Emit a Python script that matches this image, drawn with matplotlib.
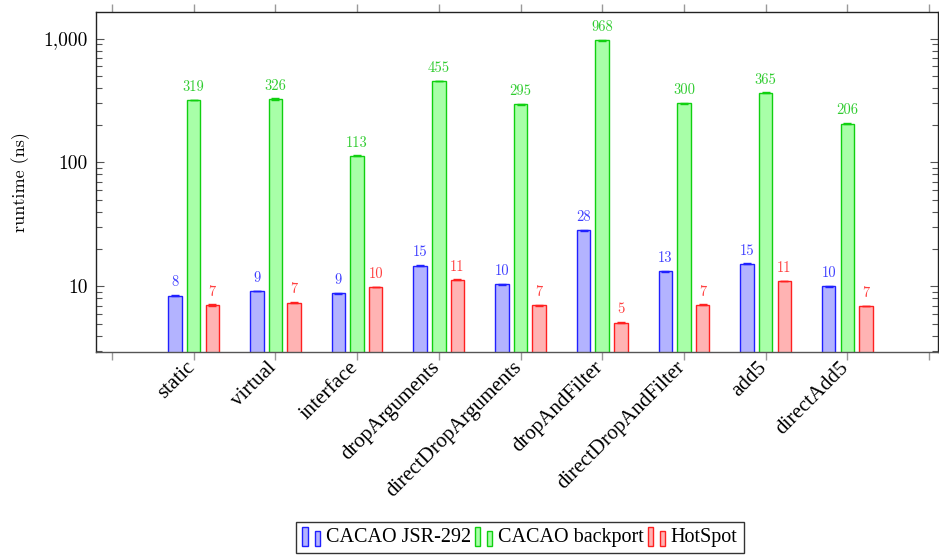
import matplotlib
matplotlib.use("Agg")
import matplotlib.pyplot as plt
import matplotlib.transforms as mtransforms
import numpy as np
from matplotlib.ticker import FixedLocator, FuncFormatter, LogLocator, NullFormatter
from matplotlib.legend_handler import HandlerBase
from matplotlib.patches import Rectangle

categories = ["static", "virtual", "interface", "dropArguments", "directDropArguments",
              "dropAndFilter", "directDropAndFilter", "add5", "directAdd5"]
series_names = ["CACAO JSR-292", "CACAO backport", "HotSpot"]
jsr292 = [8.4, 9.2, 8.8, 14.7, 10.4, 28.4, 13.2, 15.2, 10.0]
backport = [319, 326, 113, 455, 295, 968, 300, 365, 206]
hotspot = [7.05, 7.4, 9.9, 11.3, 7.05, 5.1, 7.1, 11.0, 6.95]
jsr292_err = [0.05, 0.05, 0.05, 0.1, 0.05, 0.2, 0.1, 0.1, 0.1]
backport_err = [2, 8, 1, 3, 2, 6, 2, 3, 1]
hotspot_err = [0.15, 0.05, 0.05, 0.1, 0.05, 0.05, 0.05, 0.05, 0.05]

edge_colors = ["#2020ff", "#10d010", "#ff2020"]
fill_colors = ["#b3b3ff", "#a8ffa8", "#ffb3b3"]
label_colors = ["#4040ff", "#30cc30", "#ff4040"]

fig = plt.figure(figsize=(9.39, 5.55), dpi=100)
ax = fig.add_axes([96/939, 1-352/555, (938-96)/939, 340/555])

x = np.arange(1, len(categories)+1)
offset = 0.228
width = 0.165
all_vals = [jsr292, backport, hotspot]
all_err = [jsr292_err, backport_err, hotspot_err]
handles = []
for i, (vals, errs) in enumerate(zip(all_vals, all_err)):
    pos = x + (i-1)*offset
    b = ax.bar(pos, vals, width=width, bottom=0.001, color=fill_colors[i],
               edgecolor=edge_colors[i], linewidth=1.0, zorder=2)
    handles.append(b[0])
    ax.errorbar(pos, vals, yerr=errs, fmt='none', ecolor=edge_colors[i],
                elinewidth=1.0, capsize=3, capthick=1.0, zorder=3)
    for p, v in zip(pos, vals):
        ax.annotate(f"{v:.0f}", (p, v), xytext=(0, 4.5), textcoords='offset points',
                    ha='center', va='bottom', fontsize=10.5, family='cmr10',
                    color=label_colors[i])

ax.set_yscale('log')
ax.set_ylim(10**0.47, 10**3.215)
ax.set_xlim(-0.196, 10.11)

ax.xaxis.set_major_locator(FixedLocator(np.arange(0, 11)))
ax.set_xticklabels([""] + categories + [""], rotation=45, ha='right', va='top',
                   rotation_mode='anchor', family='Liberation Serif', fontsize=15)
ax.tick_params(axis='x', which='major', direction='out', length=6, width=1,
               color='#999999', top=True, bottom=True, pad=0.5)
shift = mtransforms.ScaledTranslation(-6/72, 2/72, fig.dpi_scale_trans)
for lab in ax.get_xticklabels():
    lab.set_transform(lab.get_transform() + shift)

ax.yaxis.set_major_locator(LogLocator(base=10, numticks=10))
ax.yaxis.set_minor_locator(LogLocator(base=10, subs=np.arange(2, 10), numticks=20))
ax.yaxis.set_major_formatter(FuncFormatter(lambda v, p: f"{v:,.0f}"))
ax.yaxis.set_minor_formatter(NullFormatter())
ax.tick_params(axis='y', which='major', direction='in', length=5.8, width=0.8,
               color='#555555', left=True, right=True, pad=6)
ax.tick_params(axis='y', which='minor', direction='in', length=4.3, width=0.8,
               color='#555555', left=True, right=True)
for lab in ax.get_yticklabels():
    lab.set_family('cmr10')
    lab.set_fontsize(14)

for s in ax.spines.values():
    s.set_color('#222222')
    s.set_linewidth(1.0)
ax.spines['bottom'].set_color('#555555')

ax.set_ylabel("runtime (ns)", family='cmr10', fontsize=13)
ax.yaxis.set_label_coords(-66/842, 0.5)


class TwoBars(HandlerBase):
    def create_artists(self, legend, orig_handle, xdescent, ydescent, width, height,
                       fontsize, trans):
        fc = orig_handle.get_facecolor()
        ec = orig_handle.get_edgecolor()
        w = width * 0.3
        y0 = -ydescent - height * 0.25
        r1 = Rectangle((-xdescent, y0), w, height * 1.35, facecolor=fc, edgecolor=ec,
                       lw=1.0, transform=trans)
        r2 = Rectangle((-xdescent + width * 0.68, y0), w, height * 1.05, facecolor=fc,
                       edgecolor=ec, lw=1.0, transform=trans)
        return [r1, r2]


leg = fig.legend(handles, series_names, loc='upper center',
                 bbox_to_anchor=(520/939, 1-522/555), bbox_transform=fig.transFigure,
                 ncol=3, frameon=True, fancybox=False, edgecolor='black',
                 handler_map={h: TwoBars() for h in handles},
                 prop={'family': 'Liberation Serif', 'size': 14.5},
                 handlelength=0.9, handletextpad=0.25, columnspacing=0.2,
                 borderpad=0.3, borderaxespad=0)
leg.get_frame().set_linewidth(1.0)

fig.savefig("out.png", dpi=100)
